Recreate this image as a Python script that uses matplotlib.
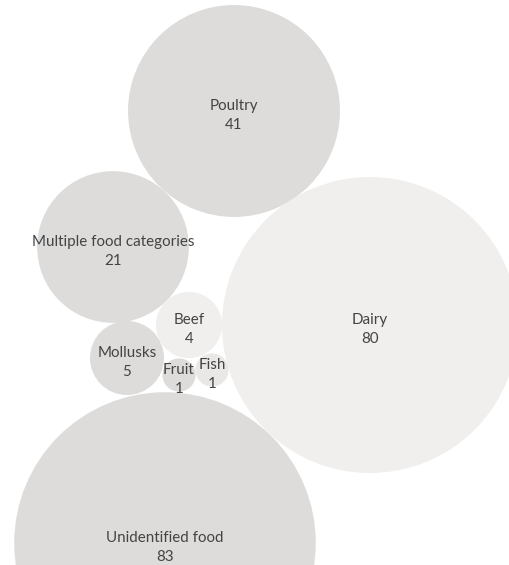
import matplotlib.pyplot as plt
from matplotlib.patches import Circle
import numpy as np

# data
categories = ['Poultry', 'Multiple food categories', 'Dairy', 'Beef',
              'Mollusks', 'Fruit', 'Fish', 'Unidentified food']
counts = [41, 21, 80, 4, 5, 1, 1, 83]

# layout of the packed bubbles (pixel space)
centers_x = [234, 113, 370, 189, 127, 179, 212, 165]
centers_y = [111, 247, 325, 325, 358, 375, 370, 543]
shade = ['#dddcdb', '#dddcdb', '#f0efee', '#f0efee',
         '#dddcdb', '#dddcdb', '#e9e8e7', '#dddcdb']

fig = plt.figure(figsize=(5.1, 5.65), dpi=100)
ax = fig.add_axes([0, 0, 1, 1])
ax.set_xlim(0, 510)
ax.set_ylim(565, 0)
ax.set_aspect('equal')
ax.axis('off')

scale = 16.55  # radius per sqrt(count)
for name, val, cx, cy, col in zip(categories, counts, centers_x, centers_y, shade):
    r = scale * np.sqrt(val)
    ax.add_patch(Circle((cx, cy), r, facecolor=col, edgecolor='none'))
    ax.text(cx, cy + 4.5, f'{name}\n{val}', ha='center', va='center',
            fontsize=10.9, family='Lato', color='#444444', linespacing=1.52)

fig.savefig('out.png', dpi=100)
